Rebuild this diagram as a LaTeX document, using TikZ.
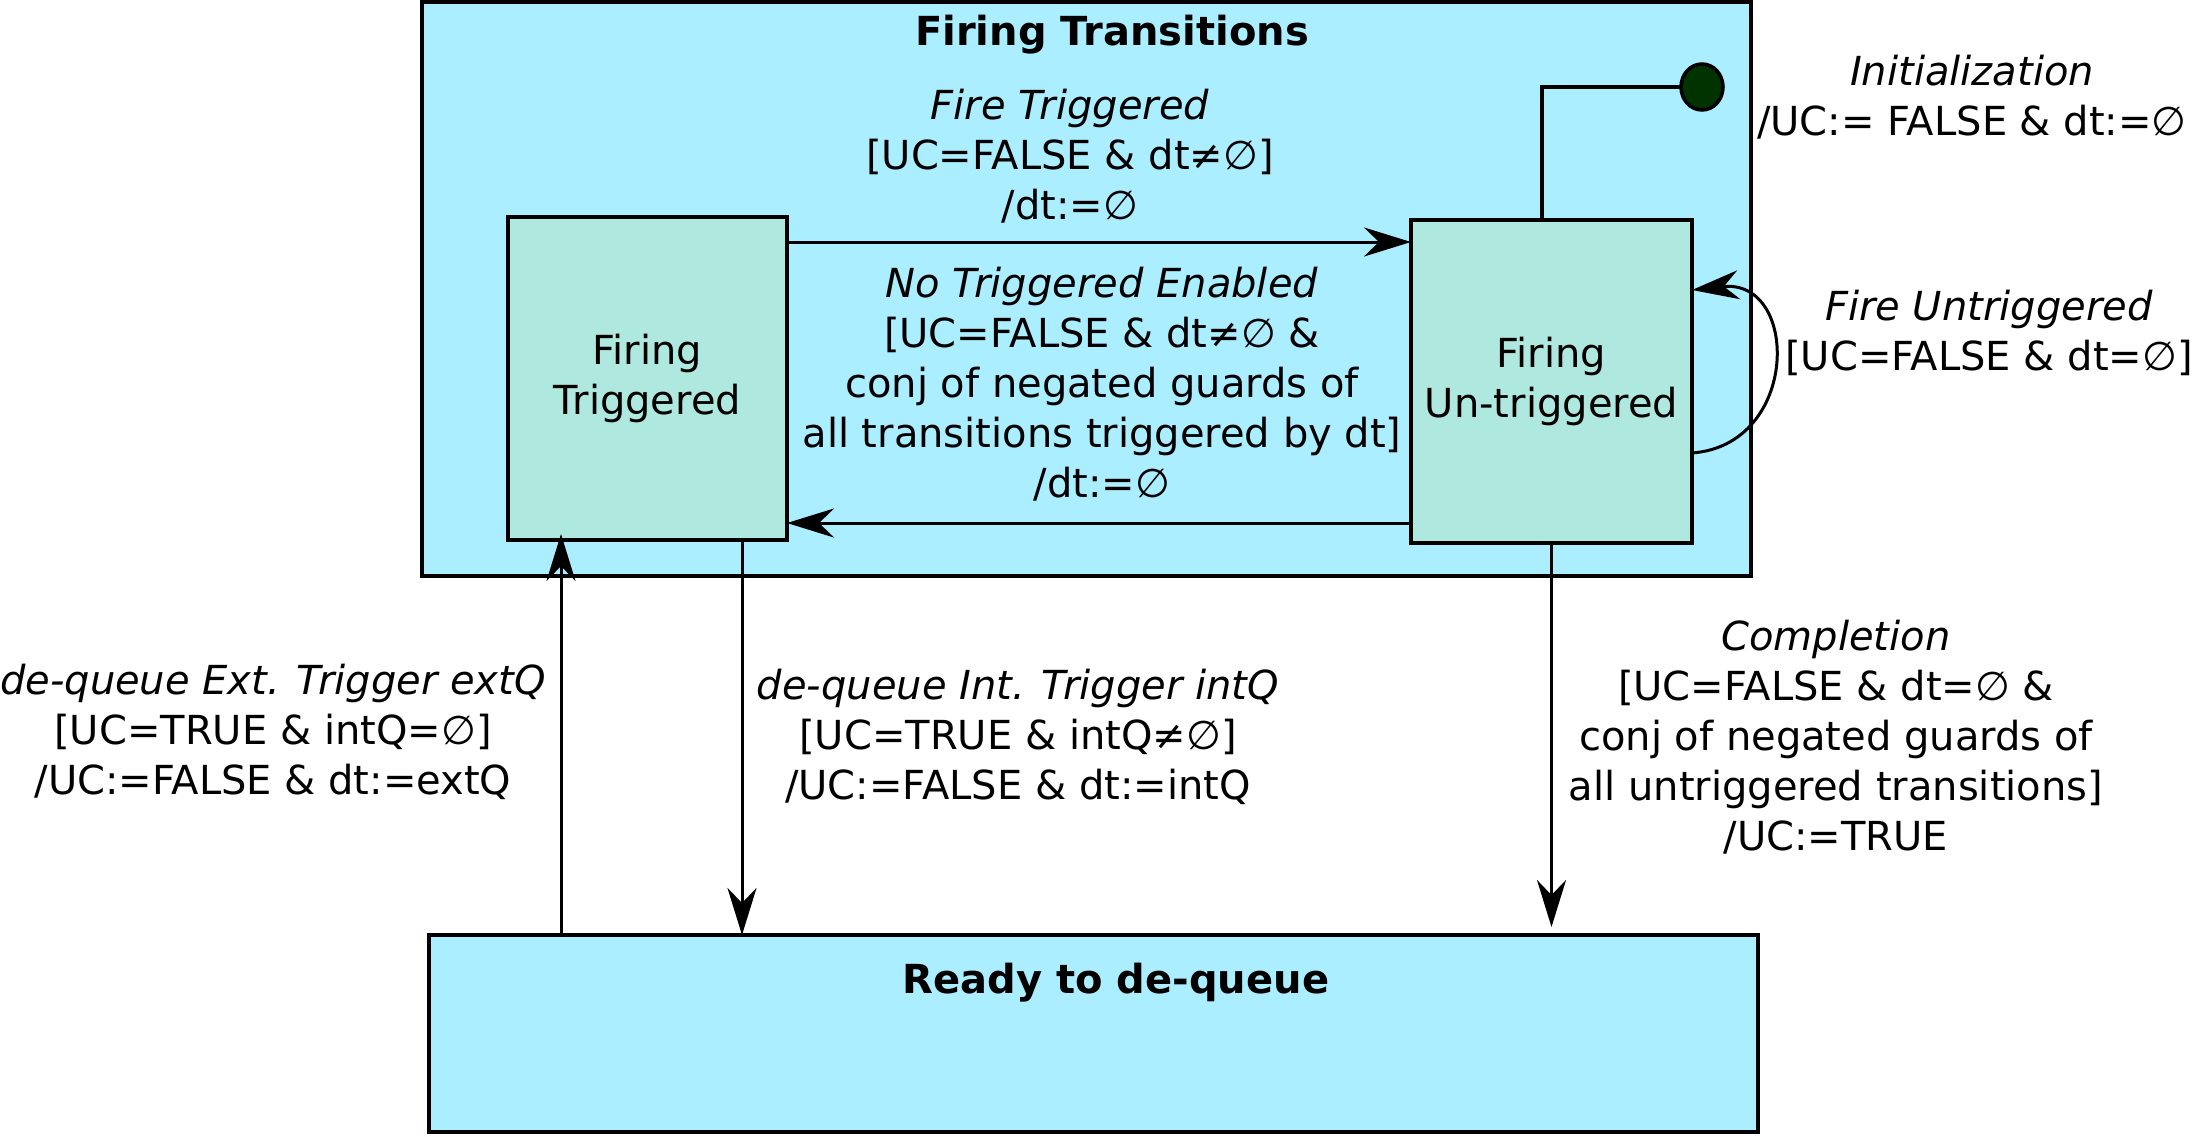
\documentclass[tikz,border=0pt]{standalone}
\usepackage{fontspec}
\setmainfont{DejaVu Sans}
\usetikzlibrary{arrows.meta,shapes.geometric}
\definecolor{boxcyan}{HTML}{AAEEFF}
\definecolor{statefill}{HTML}{AFE8DE}
\definecolor{dotgreen}{HTML}{003300}
\begin{document}
\begin{tikzpicture}[x=1pt,y=-1pt,
  every node/.style={font=\fontsize{40}{50}\selectfont},
  container/.style={draw=black,line width=3.5pt,fill=boxcyan,rectangle,inner sep=0pt,outer sep=0pt},
  statebox/.style={draw=black,line width=4.5pt,fill=statefill,rectangle,inner sep=0pt,outer sep=0pt,align=center},
  lbl/.style={align=center,inner sep=0pt},
  ttl/.style={font=\fontsize{40}{50}\selectfont\bfseries,inner sep=0pt},
  arr/.style={line width=3pt,-{Stealth[length=47pt,width=29pt,inset=15pt]}},
  plain/.style={line width=3.5pt}]
\useasboundingbox (0,0) rectangle (2193,1136);
% containers
\node[container,minimum width=1329pt,minimum height=574pt] (ft) at (1086.5,289) {};
\node[ttl] (fttitle) at (1112,35) {Firing Transitions};
\node[container,minimum width=1329pt,minimum height=197pt] (ready) at (1093.5,1033.5) {};
\node[ttl] (readytitle) at (1116,983) {Ready to de-queue};
% states
\node[statebox,minimum width=279pt,minimum height=323pt] (trig) at (647.5,378.5) {Firing\\Triggered};
\node[statebox,minimum width=281pt,minimum height=323pt] (untrig) at (1551.5,381.5) {Firing\\Un-triggered};
% initial pseudostate
\node[ellipse,draw=black,line width=3.5pt,fill=dotgreen,minimum width=42pt,minimum height=46pt,inner sep=0pt,outer sep=0pt] (init) at (1702,87) {};
\coordinate (initx) at (1542,0);
\draw[plain] (init.west) -| (untrig.north -| initx);
% helper coordinates
\coordinate (extx) at (561,0);
\coordinate (intx) at (742,0);
\coordinate (ftop) at (0,242);
\coordinate (fbot) at (0,523);
% transitions
\draw[arr] (trig.east |- ftop) -- (untrig.west |- ftop);
\draw[arr] (untrig.west |- fbot) -- (trig.east |- fbot);
\draw[arr] (untrig.east |- 0,453) .. controls (1800,445) and (1800,278) .. (untrig.east |- 0,290);
\draw[arr] (ready.north -| extx) -- ([yshift=6pt]trig.south -| extx);
\draw[arr] (trig.south -| intx) -- (ready.north -| intx);
\draw[arr,shorten >=8pt] (untrig.south) -- (ready.north -| untrig.south);
% labels
\node[lbl] (lfire) at (1070,156) {\textit{Fire Triggered}\\{[}UC=FALSE \& dt≠∅{]}\\/dt:=∅};
\node[lbl] (lnone) at (1102,384) {\textit{No Triggered Enabled}\\{[}UC=FALSE \& dt≠∅ \&\\conj of negated guards of\\all transitions triggered by dt{]}\\/dt:=∅};
\node[lbl] (linit) at (1972,97) {\textit{Initialization}\\/UC:= FALSE \& dt:=∅};
\node[lbl] (lunt) at (1989,333) {\textit{Fire Untriggered}\\{[}UC=FALSE \& dt=∅{]}};
\node[lbl] (lext) at (273,732) {\textit{de-queue Ext. Trigger extQ}\\{[}UC=TRUE \& intQ=∅{]}\\/UC:=FALSE \& dt:=extQ};
\node[lbl] (lint) at (1018,737) {\textit{de-queue Int. Trigger intQ}\\{[}UC=TRUE \& intQ≠∅{]}\\/UC:=FALSE \& dt:=intQ};
\node[lbl] (lcomp) at (1836,737) {\textit{Completion}\\{[}UC=FALSE \& dt=∅ \&\\conj of negated guards of\\all untriggered transitions{]}\\/UC:=TRUE};
\end{tikzpicture}
\end{document}
